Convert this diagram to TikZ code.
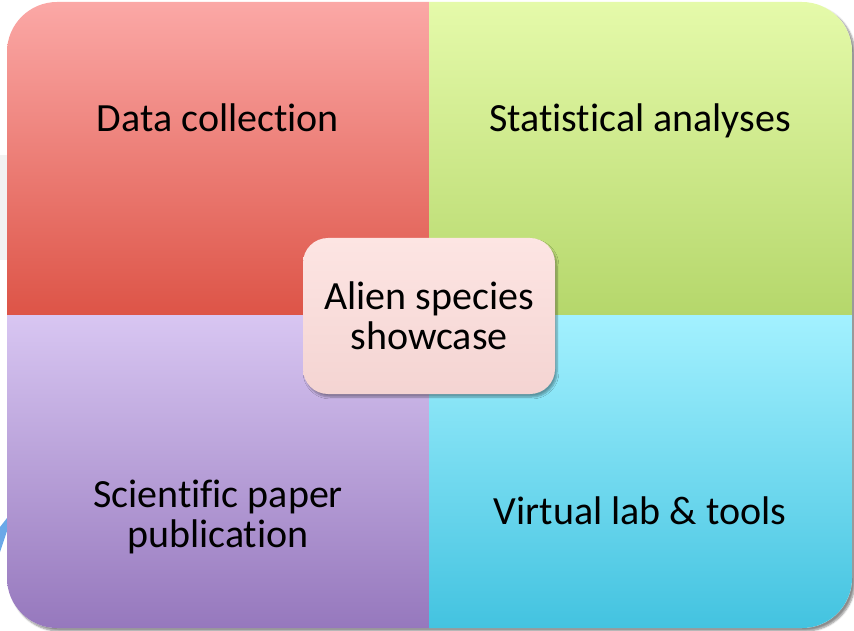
\documentclass[tikz,border=0pt]{standalone}
\usepackage{fontspec}
\setmainfont{Carlito}[Ligatures=NoCommon]
\usetikzlibrary{shadows.blur}

\definecolor{redtop}{HTML}{FBA8A6}
\definecolor{redbot}{HTML}{DD5447}
\definecolor{greentop}{HTML}{E5FAAA}
\definecolor{greenbot}{HTML}{B5D76B}
\definecolor{purptop}{HTML}{D8C6F2}
\definecolor{purpbot}{HTML}{9678BD}
\definecolor{cyantop}{HTML}{A3F1FF}
\definecolor{cyanbot}{HTML}{43C3E0}
\definecolor{hubtop}{HTML}{FDE5E3}
\definecolor{hubbot}{HTML}{F4D4D2}
\definecolor{arrowblue}{HTML}{6AA8E8}

\tikzset{
  label/.style={font=\fontsize{40}{40}\selectfont, align=center, text=black},
  hub/.style={label, rounded corners=25pt, minimum width=252pt,
    minimum height=156pt, top color=hubtop, bottom color=hubbot,
    blur shadow={shadow xshift=2pt, shadow yshift=-3pt, shadow blur steps=6, shadow opacity=35}}
}

\begin{document}
\begin{tikzpicture}[x=1pt,y=-1pt]
  \useasboundingbox (0,0) rectangle (854,631);
  % bits of the slide behind
  \fill[black!5] (0,155) rectangle (7,260);
  \fill[arrowblue] (0,527) -- (7,518) -- (7,531) -- (0,552) -- cycle;
  % outer frame with shadow
  \path[fill=white, rounded corners=50pt,
    blur shadow={shadow xshift=3pt, shadow yshift=-3pt, shadow blur steps=6, shadow opacity=45}]
    (7,2) rectangle (852,628);
  \begin{scope}
    \clip[rounded corners=50pt] (7,2) rectangle (852,628);
    \shade[top color=redtop, bottom color=redbot] (7,2) rectangle (429,315);
    \shade[top color=greentop, bottom color=greenbot] (429,2) rectangle (852,315);
    \shade[top color=purptop, bottom color=purpbot] (7,315) rectangle (429,628);
    \shade[top color=cyantop, bottom color=cyanbot] (429,315) rectangle (852,628);
  \end{scope}
  \node[label, anchor=base] (data) at (218,132) {Data collection};
  \node[label, anchor=base] (stats) at (640,132) {Statistical analyses};
  \node[label] (paper) at (218,517) {Scientific paper\\publication};
  \node[label, anchor=base] (lab) at (640,524) {Virtual lab \& tools};
  \node[hub] (alien) at (429,316) {Alien species\\showcase};
\end{tikzpicture}
\end{document}
